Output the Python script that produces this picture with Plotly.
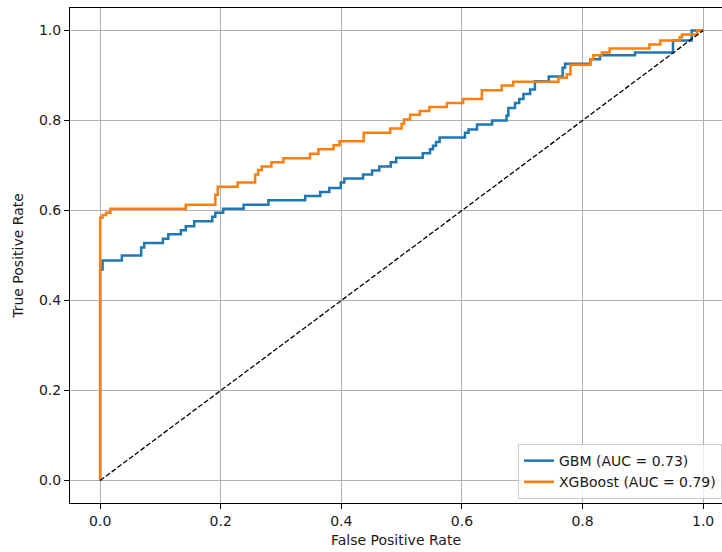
import plotly.graph_objects as go

# ROC step vertices
gbm_fpr = [0, 0, 0.004, 0.004, 0.036, 0.036, 0.068, 0.068, 0.073, 0.073, 0.104, 0.104,
           0.113, 0.113, 0.134, 0.134, 0.142, 0.142, 0.156, 0.156, 0.186, 0.186, 0.191, 0.191,
           0.204, 0.204, 0.238, 0.238, 0.279, 0.279, 0.340, 0.340, 0.365, 0.365, 0.380, 0.380,
           0.399, 0.399, 0.405, 0.405, 0.436, 0.436, 0.451, 0.451, 0.463, 0.463, 0.482, 0.482,
           0.491, 0.491, 0.535, 0.535, 0.547, 0.547, 0.552, 0.552, 0.557, 0.557, 0.563, 0.563,
           0.605, 0.605, 0.611, 0.611, 0.625, 0.625, 0.650, 0.650, 0.674, 0.674, 0.677, 0.677,
           0.688, 0.688, 0.695, 0.695, 0.702, 0.702, 0.713, 0.713, 0.721, 0.721, 0.744, 0.744,
           0.767, 0.767, 0.771, 0.771, 0.813, 0.813, 0.829, 0.829, 0.887, 0.887, 0.950, 0.950,
           0.981, 0.981, 1.0]
gbm_tpr = [0, 0.469, 0.469, 0.489, 0.489, 0.500, 0.500, 0.518, 0.518, 0.528, 0.528, 0.537,
           0.537, 0.547, 0.547, 0.556, 0.556, 0.565, 0.565, 0.576, 0.576, 0.586, 0.586, 0.595,
           0.595, 0.604, 0.604, 0.613, 0.613, 0.623, 0.623, 0.632, 0.632, 0.641, 0.641, 0.650,
           0.650, 0.662, 0.662, 0.671, 0.671, 0.680, 0.680, 0.689, 0.689, 0.698, 0.698, 0.707,
           0.707, 0.717, 0.717, 0.727, 0.727, 0.736, 0.736, 0.744, 0.744, 0.752, 0.752, 0.762,
           0.762, 0.773, 0.773, 0.780, 0.780, 0.791, 0.791, 0.800, 0.800, 0.811, 0.811, 0.828,
           0.828, 0.839, 0.839, 0.848, 0.848, 0.859, 0.859, 0.869, 0.869, 0.887, 0.887, 0.898,
           0.898, 0.917, 0.917, 0.926, 0.926, 0.936, 0.936, 0.945, 0.945, 0.951, 0.951, 0.978,
           0.978, 1.0, 1.0]

xgb_fpr = [0, 0, 0.004, 0.004, 0.010, 0.010, 0.017, 0.017, 0.142, 0.142, 0.191, 0.191,
           0.195, 0.195, 0.228, 0.228, 0.257, 0.257, 0.262, 0.262, 0.268, 0.268, 0.284, 0.284,
           0.304, 0.304, 0.348, 0.348, 0.362, 0.362, 0.387, 0.387, 0.397, 0.397, 0.437, 0.437,
           0.481, 0.481, 0.500, 0.500, 0.504, 0.504, 0.514, 0.514, 0.530, 0.530, 0.546, 0.546,
           0.575, 0.575, 0.602, 0.602, 0.633, 0.633, 0.666, 0.666, 0.685, 0.685, 0.760, 0.760,
           0.774, 0.774, 0.780, 0.780, 0.813, 0.813, 0.818, 0.818, 0.832, 0.832, 0.845, 0.845,
           0.911, 0.911, 0.929, 0.929, 0.961, 0.961, 0.965, 0.965, 0.990, 0.990, 1.0]
xgb_tpr = [0, 0.584, 0.584, 0.590, 0.590, 0.595, 0.595, 0.604, 0.604, 0.613, 0.613, 0.635,
           0.635, 0.653, 0.653, 0.662, 0.662, 0.680, 0.680, 0.690, 0.690, 0.698, 0.698, 0.707,
           0.707, 0.716, 0.716, 0.726, 0.726, 0.736, 0.736, 0.745, 0.745, 0.754, 0.754, 0.773,
           0.773, 0.782, 0.782, 0.793, 0.793, 0.802, 0.802, 0.813, 0.813, 0.821, 0.821, 0.830,
           0.830, 0.839, 0.839, 0.848, 0.848, 0.867, 0.867, 0.878, 0.878, 0.886, 0.886, 0.895,
           0.895, 0.903, 0.903, 0.924, 0.924, 0.936, 0.936, 0.945, 0.945, 0.951, 0.951, 0.960,
           0.960, 0.969, 0.969, 0.978, 0.978, 0.985, 0.985, 0.991, 0.991, 1.0, 1.0]

chance_x = [0, 1]
chance_y = [0, 1]

series_names = ["GBM (AUC = 0.73)", "XGBoost (AUC = 0.79)"]
tick_vals = [0.0, 0.2, 0.4, 0.6, 0.8, 1.0]
tick_text = ["0.0", "0.2", "0.4", "0.6", "0.8", "1.0"]

FONT = "DejaVu Sans"
FS = 14
TXT = "#1a1a1a"

fig = go.Figure()
fig.add_trace(go.Scatter(x=gbm_fpr, y=gbm_tpr, mode="lines", name=series_names[0],
                         line=dict(color="#1f77b4", width=2.5)))
fig.add_trace(go.Scatter(x=xgb_fpr, y=xgb_tpr, mode="lines", name=series_names[1],
                         line=dict(color="#ff7f0e", width=2.5)))
fig.add_trace(go.Scatter(x=chance_x, y=chance_y, mode="lines", showlegend=False,
                         line=dict(color="black", width=1.3, dash="5px,2.2px")))

axis_common = dict(
    showgrid=True, gridcolor="#b0b0b0", gridwidth=1,
    zeroline=False, showline=True, linecolor="black", linewidth=1,
    ticks="outside", ticklen=5, tickwidth=1, tickcolor="black",
    tickfont=dict(family=FONT, size=FS, color=TXT),
    tickvals=tick_vals, ticktext=tick_text,
)

fig.update_layout(
    width=722, height=552,
    margin=dict(l=70, r=0, t=8, b=49),
    paper_bgcolor="white", plot_bgcolor="white",
    font=dict(family=FONT, size=FS, color=TXT),
    xaxis=dict(range=[-0.05, 1.0313], mirror=True,
               title=dict(text="False Positive Rate", font=dict(family=FONT, size=FS, color=TXT), standoff=7),
               **axis_common),
    yaxis=dict(range=[-0.05, 1.05], mirror=False,
               title=dict(text="True Positive Rate", font=dict(family=FONT, size=FS, color=TXT), standoff=12),
               **axis_common),
    legend=dict(x=1.0, y=0.008, xanchor="right", yanchor="bottom",
                bgcolor="rgba(255,255,255,0.8)", bordercolor="#cccccc", borderwidth=1,
                font=dict(family=FONT, size=FS, color=TXT), itemwidth=30,
                tracegroupgap=0),
    hovermode=False,
    showlegend=True,
)

fig.write_html("out.html", config={"displayModeBar": False},
               post_script="document.body.style.margin='0';document.body.style.padding='0';")
